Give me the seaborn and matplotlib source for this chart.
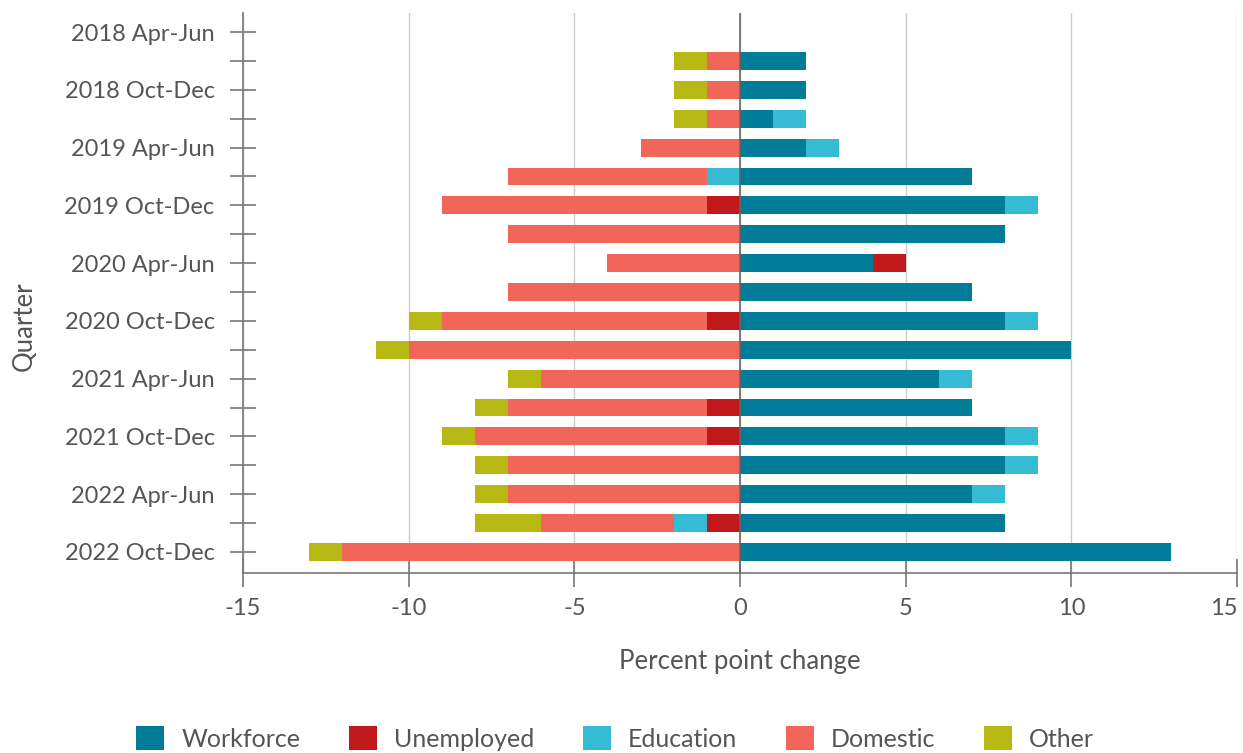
"""Diverging stacked bar chart of quarterly percent point change by activity."""
import pandas as pd
import numpy as np
import matplotlib
matplotlib.use("Agg")
import matplotlib.pyplot as plt
from matplotlib.patches import Patch
import seaborn as sns

sns.set_theme(style="white")
plt.rcParams["font.family"] = ["Lato", "DejaVu Sans"]

# --- Data ---
quarters = [
    "2018 Apr-Jun", "2018 Jul-Sep", "2018 Oct-Dec",
    "2019 Jan-Mar", "2019 Apr-Jun", "2019 Jul-Sep", "2019 Oct-Dec",
    "2020 Jan-Mar", "2020 Apr-Jun", "2020 Jul-Sep", "2020 Oct-Dec",
    "2021 Jan-Mar", "2021 Apr-Jun", "2021 Jul-Sep", "2021 Oct-Dec",
    "2022 Jan-Mar", "2022 Apr-Jun", "2022 Jul-Sep", "2022 Oct-Dec",
]
workforce = [0, 2, 2, 1, 2, 7, 8, 8, 4, 7, 8, 10, 6, 7, 8, 8, 7, 8, 13]
unemployed = [0, 0, 0, 0, 0, 0, -1, 0, 1, 0, -1, 0, 0, -1, -1, 0, 0, -1, 0]
education = [0, 0, 0, 1, 1, -1, 1, 0, 0, 0, 1, 0, 1, 0, 1, 1, 1, -1, 0]
domestic = [0, -1, -1, -1, -3, -6, -8, -7, -4, -7, -8, -10, -6, -6, -7, -7, -7, -4, -12]
other = [0, -1, -1, -1, 0, 0, 0, 0, 0, 0, -1, -1, -1, -1, -1, -1, -1, -2, -1]

series = ["Workforce", "Unemployed", "Education", "Domestic", "Other"]
colors = {"Workforce": "#007C99", "Unemployed": "#C0181B", "Education": "#36BBD5",
          "Domestic": "#F26659", "Other": "#B7B813"}

df = pd.DataFrame({"Quarter": quarters, "Workforce": workforce, "Unemployed": unemployed,
                   "Education": education, "Domestic": domestic, "Other": other})

# positive and negative parts stack separately (W, U, E, D, O order)
pos = df[series].clip(lower=0).cumsum(axis=1)
neg = df[series].clip(upper=0).cumsum(axis=1)

fig = plt.figure(figsize=(12.43, 7.53), dpi=100)
ax = fig.add_axes([0.1955, 0.239, 0.7997, 0.7437])

# draw outermost cumulative totals first, inner segments on top
for s in reversed(series):
    for part in (pos, neg):
        sns.barplot(x=part[s], y=df["Quarter"], order=quarters, orient="h",
                    color=colors[s], width=0.62, saturation=1, ax=ax,
                    edgecolor="none", linewidth=0)

ax.set_xlim(-15, 15)
ax.set_ylim(18.73, -0.66)
ax.set_xticks(np.arange(-15, 16, 5))
ax.set_xticklabels([str(v) for v in range(-15, 16, 5)])
ax.get_xticklabels()[-1].set_horizontalalignment("right")
ax.set_yticks(range(len(quarters)))
ax.set_yticklabels([q if i % 2 == 0 else "" for i, q in enumerate(quarters)])

ax.grid(axis="x", color="#CCCCCC", linewidth=1)
ax.set_axisbelow(True)
ax.axvline(0, color="#666666", linewidth=1.2, zorder=5)
for sp in ("top", "right"):
    ax.spines[sp].set_visible(False)
for sp in ("left", "bottom"):
    ax.spines[sp].set_color("#777777")
    ax.spines[sp].set_linewidth(1.2)

ax.tick_params(axis="y", left=True, direction="inout", length=19, width=1.2, color="#777777",
               labelsize=17, labelcolor="#555555", pad=11)
ax.tick_params(axis="x", bottom=True, direction="inout", length=19.5, width=1.2, color="#777777",
               labelsize=17, labelcolor="#555555", pad=8)

ax.set_xlabel("Percent point change", fontsize=18.5, color="#555555", labelpad=22)
ax.set_ylabel("Quarter", fontsize=18.5, color="#555555")
ax.yaxis.set_label_coords(-0.207, 0.441)

handles = [Patch(facecolor=colors[s], edgecolor="none", label=s) for s in series]
fig.legend(handles=handles, loc="lower center", bbox_to_anchor=(0.495, -0.027), ncol=5,
           frameon=False, fontsize=18, labelcolor="#555555", handlelength=1.1,
           handleheight=1.1, handletextpad=0.7, columnspacing=1.95)

fig.savefig("out.png", dpi=100, facecolor="white")
plt.close(fig)
print("out.png OK")
